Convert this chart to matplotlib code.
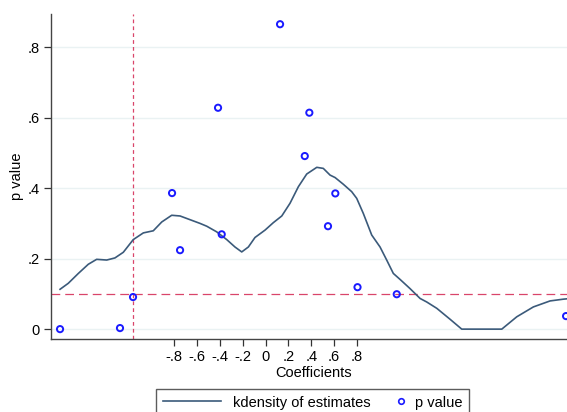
import numpy as np
import matplotlib
matplotlib.use("Agg")
import matplotlib.pyplot as plt
from matplotlib.lines import Line2D
from matplotlib.legend_handler import HandlerLine2D

plt.rcParams['font.family'] = ['Liberation Sans', 'DejaVu Sans']

# kdensity of estimates
kd_x = [-1.796, -1.724, -1.636, -1.549, -1.476, -1.388, -1.316, -1.243, -1.156, -1.068,
        -0.981, -0.907, -0.820, -0.747, -0.689, -0.631, -0.573, -0.514, -0.427, -0.339,
        -0.267, -0.208, -0.150, -0.092, -0.004, 0.068, 0.142, 0.214, 0.287, 0.360,
        0.448, 0.505, 0.564, 0.608, 0.680, 0.753, 0.797, 0.855, 0.928, 1.001,
        1.059, 1.117, 1.176, 1.263, 1.351, 1.409, 1.497, 1.613, 1.715, 2.065,
        2.196, 2.341, 2.487, 2.603, 2.635]
kd_y = [0.113, 0.130, 0.158, 0.184, 0.198, 0.196, 0.202, 0.218, 0.254, 0.273,
        0.279, 0.304, 0.323, 0.321, 0.314, 0.307, 0.300, 0.292, 0.276, 0.254,
        0.233, 0.219, 0.233, 0.260, 0.281, 0.302, 0.321, 0.357, 0.404, 0.440,
        0.459, 0.456, 0.437, 0.430, 0.411, 0.390, 0.371, 0.328, 0.267, 0.233,
        0.196, 0.158, 0.141, 0.115, 0.087, 0.077, 0.059, 0.028, 0.0, 0.0,
        0.035, 0.063, 0.080, 0.085, 0.086]

# p values
coef = [-1.796, -1.272, -1.158, -0.817, -0.747, -0.415, -0.383, 0.127, 0.383, 0.343,
        0.610, 0.546, 0.804, 1.147, 2.627]
pval = [0.0, 0.003, 0.091, 0.386, 0.224, 0.628, 0.269, 0.865, 0.614, 0.491,
        0.385, 0.292, 0.119, 0.099, 0.037]

xticks = [-0.8, -0.6, -0.4, -0.2, 0, 0.2, 0.4, 0.6, 0.8]
xticklabels = ["-.8", "-.6", "-.4", "-.2", "0", ".2", ".4", ".6", ".8"]
yticks = [0, 0.2, 0.4, 0.6, 0.8]
yticklabels = ["0", ".2", ".4", ".6", ".8"]

vline_x = -1.158
hline_y = 0.1

line_col = "#3b5a7a"
dot_col = "#1a1aff"
ref_col = "#d9456a"


class MarkerAtEnd(HandlerLine2D):
    # stata puts the legend marker right next to its label
    def create_artists(self, legend, orig_handle, xdescent, ydescent, width, height,
                       fontsize, trans):
        y = (height - ydescent) / 2
        m = Line2D([width - xdescent - 2], [y])
        self.update_prop(m, orig_handle, legend)
        m.set_transform(trans)
        return [m]


fig = plt.figure(figsize=(5.67, 4.12), dpi=100)
ax = fig.add_axes([51 / 567, 73 / 412, 1 - 51 / 567, 325 / 412])

for yt in yticks:
    ax.axhline(yt, color="#eaf2f3", lw=1.0, zorder=0)

ax.plot(kd_x, kd_y, color=line_col, lw=1.2, zorder=2)
ax.scatter(coef, pval, s=20, facecolors="none", edgecolors=dot_col, linewidths=1.4,
           zorder=3, clip_on=False)

ax.axvline(vline_x, color=ref_col, lw=0.9, ls=(0, (3, 2.5)), zorder=1)
ax.axhline(hline_y, color=ref_col, lw=0.9, ls=(0, (7, 4)), zorder=1)

ax.set_xlim(-1.875, 2.635)
ax.set_ylim(-0.028, 0.894)

ax.set_xticks(xticks)
ax.set_xticklabels(xticklabels, fontsize=10.5)
ax.set_yticks(yticks)
ax.set_yticklabels(yticklabels, fontsize=10.5)
ax.tick_params(direction="out", length=5, width=0.9, color="#333333", pad=3)

ax.spines["top"].set_visible(False)
ax.spines["right"].set_visible(False)
for s in ["left", "bottom"]:
    ax.spines[s].set_color("#444444")
    ax.spines[s].set_linewidth(1.0)

ax.set_xlabel("Coefficients", fontsize=10.5)
ax.xaxis.set_label_coords(0.508, -0.083)
ax.set_ylabel("p value", fontsize=10.5)
ax.yaxis.set_label_coords(-0.052, 0.5)

h1 = Line2D([], [], color=line_col, lw=1.2)
h2 = Line2D([], [], color=dot_col, marker="o", ls="none", markersize=4,
            markerfacecolor="none", markeredgewidth=1.2)
leg = fig.legend(handles=[h1, h2], labels=["kdensity of estimates", "p value"],
                 loc="upper left", bbox_to_anchor=(156 / 567, 23 / 412), borderaxespad=0,
                 ncol=2, fontsize=10.5, frameon=True, fancybox=False, edgecolor="#333333",
                 handlelength=4, handletextpad=0.8, columnspacing=-1.7, borderpad=0.45,
                 handler_map={h2: MarkerAtEnd()})
leg.get_frame().set_linewidth(1.0)

fig.savefig("out.png", dpi=100)
